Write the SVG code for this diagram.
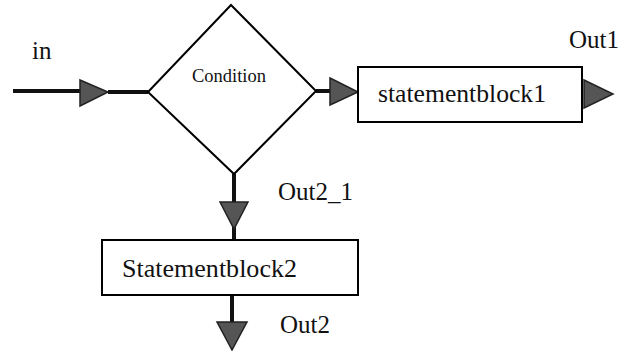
<svg xmlns="http://www.w3.org/2000/svg" width="628" height="351" viewBox="0 0 628 351">
  <style>
    .shape { fill: #fff; stroke: #000; stroke-width: 2; }
    .wire { stroke: #111; stroke-width: 4; fill: none; }
    .head { fill: #555; stroke: #222; stroke-width: 1.5; stroke-linejoin: miter; }
    .lbl { font-family: "Liberation Serif", "Times New Roman", serif; font-size: 25px; fill: #111; }
    .small { font-family: "Liberation Serif", "Times New Roman", serif; font-size: 18.5px; fill: #111; }
  </style>
  <rect width="628" height="351" fill="#fff"/>

  <g id="connectors">
    <!-- in -> Condition -->
    <line class="wire" x1="13" y1="91" x2="82" y2="91"/>
    <polygon class="head" points="80,80 108,92 80,106"/>
    <line class="wire" x1="108" y1="92" x2="148" y2="92"/>
    <!-- Condition -> statementblock1 -->
    <line class="wire" x1="316" y1="91" x2="332" y2="91"/>
    <polygon class="head" points="330,78 358,92 330,105"/>
    <!-- statementblock1 -> Out1 -->
    <polygon class="head" points="584,80 613,94 584,108"/>
    <!-- Condition -> Statementblock2 -->
    <line class="wire" x1="234" y1="174" x2="234" y2="240"/>
    <polygon class="head" points="220,202 248,202 234,229"/>
    <!-- Statementblock2 -> Out2 -->
    <line class="wire" x1="232" y1="295" x2="232" y2="324"/>
    <polygon class="head" points="217,322 247,322 232,350"/>
  </g>

  <g id="condition">
    <polygon class="shape" points="231,5 316,91 234,174 148,92"/>
    <text class="small" x="192" y="82" textLength="74" lengthAdjust="spacingAndGlyphs">Condition</text>
  </g>

  <g id="statementblock1">
    <rect class="shape" x="358" y="67" width="224" height="55"/>
    <text class="lbl" x="378" y="102" textLength="168" lengthAdjust="spacingAndGlyphs">statementblock1</text>
  </g>

  <g id="statementblock2">
    <rect class="shape" x="102" y="240" width="256" height="55"/>
    <text class="lbl" x="122" y="277" textLength="175" lengthAdjust="spacingAndGlyphs">Statementblock2</text>
  </g>

  <g id="labels">
    <text class="lbl" x="32" y="59">in</text>
    <text class="lbl" x="569" y="48">Out1</text>
    <text class="lbl" x="278" y="200">Out2_1</text>
    <text class="lbl" x="280" y="333">Out2</text>
  </g>
</svg>
